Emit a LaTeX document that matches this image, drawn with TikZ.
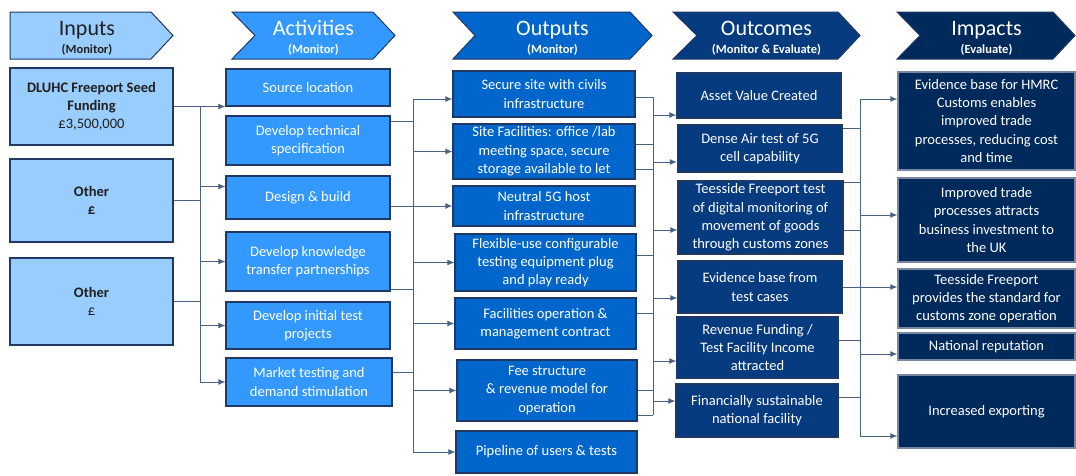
\documentclass[tikz,border=0pt]{standalone}
\usepackage{fontspec}
\setmainfont{Carlito}
\usetikzlibrary{arrows.meta}

\definecolor{inputblue}{HTML}{99CCFF}
\definecolor{actblue}{HTML}{3399FF}
\definecolor{outblue}{HTML}{0066CC}
\definecolor{ocnavy}{HTML}{073B80}
\definecolor{imnavy}{HTML}{002A5C}
\definecolor{edge}{HTML}{1F3864}
\definecolor{wire}{HTML}{4A6384}
\definecolor{ink}{HTML}{202020}

\begin{document}
\begin{tikzpicture}[x=1pt,y=-1pt,
    cell/.style={draw=edge,line width=1.2pt,inner sep=0pt,align=center,
      font=\fontsize{14.5}{18.3}\selectfont},
    inbox/.style={cell,fill=inputblue,text=ink},
    actbox/.style={cell,fill=actblue,text=white},
    outbox/.style={cell,fill=outblue,text=white},
    ocbox/.style={cell,fill=ocnavy,text=white},
    imbox/.style={cell,fill=imnavy,text=white,draw=edge!60},
    link/.style={draw=wire,line width=1pt},
    flow/.style={link,-{Latex[length=7pt,width=6pt]},draw=wire,fill=edge},
    head/.style={draw=edge,line width=1pt},
    headtitle/.style={anchor=base,font=\fontsize{22}{24}\selectfont},
    headsub/.style={anchor=base,font=\fontsize{12.5}{14}\selectfont\bfseries}]

   \useasboundingbox[fill=white] (0,0) rectangle (1076,475);

   %chevrons across the top
   \filldraw[head,fill=inputblue] (10,12) -- (151,12) -- (173,35.5) -- (151,59) -- (10,59) -- cycle;
   \filldraw[head,fill=actblue] (232,12) -- (373,12) -- (395,35.5) -- (373,59) -- (232,59) -- (255,35.5) -- cycle;
   \filldraw[head,fill=outblue] (453,12) -- (630,12) -- (652,35.5) -- (630,59) -- (453,59) -- (475,35.5) -- cycle;
   \filldraw[head,fill=ocnavy] (673,12) -- (838,12) -- (860,35.5) -- (838,59) -- (673,59) -- (697,35.5) -- cycle;
   \filldraw[head,fill=imnavy] (897,12) -- (1053,12) -- (1075,35.5) -- (1053,59) -- (897,59) -- (920,35.5) -- cycle;

   \node[headtitle,text=ink] (tInputs) at (87,35) {Inputs};
   \node[headsub,text=ink] (sInputs) at (87,53) {(Monitor)};
   \node[headtitle,text=white] (tActivities) at (313.5,35) {Activities};
   \node[headsub,text=white] (sActivities) at (313.5,53) {(Monitor)};
   \node[headtitle,text=white] (tOutputs) at (552.5,35) {Outputs};
   \node[headsub,text=white] (sOutputs) at (552.5,53) {(Monitor)};
   \node[headtitle,text=white] (tOutcomes) at (766.5,35) {Outcomes};
   \node[headsub,text=white] (sOutcomes) at (766.5,53) {(Monitor \& Evaluate)};
   \node[headtitle,text=white] (tImpacts) at (986.5,35) {Impacts};
   \node[headsub,text=white] (sImpacts) at (986.5,53) {(Evaluate)};

   %inputs
   \node[inbox,minimum width=163,minimum height=77] (in1) at (91.5,106.5)
      {\textbf{DLUHC Freeport Seed}\\\textbf{Funding}\\£3,500,000};
   \node[inbox,minimum width=163,minimum height=83] (in2) at (91.5,200.5)
      {\textbf{Other}\\\textbf{£}};
   \node[inbox,minimum width=163,minimum height=87] (in3) at (91.5,301.5)
      {\textbf{Other}\\£};

   %activities
   \node[actbox,minimum width=164,minimum height=37] (act1) at (308,87.5) {Source location};
   \node[actbox,minimum width=164,minimum height=49] (act2) at (308,140.5) {Develop technical\\specification};
   \node[actbox,minimum width=164,minimum height=43] (act3) at (308,197.5) {Design \& build};
   \node[actbox,minimum width=164,minimum height=59] (act4) at (308,261.5) {Develop knowledge\\transfer partnerships};
   \node[actbox,minimum width=164,minimum height=47] (act5) at (308,325.5) {Develop initial test\\projects};
   \node[actbox,minimum width=166,minimum height=48] (act6) at (309,382) {Market testing and\\demand stimulation};

   %outputs
   \node[outbox,minimum width=182,minimum height=46] (out1) at (544,94) {Secure site with civils\\infrastructure};
   \node[outbox,minimum width=182,minimum height=55] (out2) at (544,151.5)
      {Site Facilities: office /lab\\meeting space, secure\\storage available to let};
   \node[outbox,minimum width=182,minimum height=40] (out3) at (544,206) {Neutral 5G host\\infrastructure};
   \node[outbox,minimum width=181,minimum height=57] (out4) at (545.5,262.5)
      {Flexible-use configurable\\testing equipment plug\\and play ready};
   \node[outbox,minimum width=181,minimum height=51] (out5) at (545.5,323.5) {Facilities operation \&\\management contract};
   \node[outbox,minimum width=180,minimum height=61] (out6) at (547,390.5) {Fee structure\\\& revenue model for\\operation};
   \node[outbox,minimum width=181,minimum height=42] (out7) at (546.5,452) {Pipeline of users \& tests};

   %outcomes
   \node[ocbox,minimum width=164,minimum height=45] (oc1) at (759,95.5) {Asset Value Created};
   \node[ocbox,minimum width=165,minimum height=47] (oc2) at (760,148.5) {Dense Air test of 5G\\cell capability};
   \node[ocbox,minimum width=165,minimum height=73] (oc3) at (760.5,217.5)
      {Teesside Freeport test\\of digital monitoring of\\movement of goods\\through customs zones};
   \node[ocbox,minimum width=164,minimum height=52] (oc4) at (760,287) {Evidence base from\\test cases};
   \node[ocbox,minimum width=161,minimum height=61] (oc5) at (757.5,347.5)
      {Revenue Funding /\\Test Facility Income\\attracted};
   \node[ocbox,minimum width=162,minimum height=53] (oc6) at (757,410.5) {Financially sustainable\\national facility};

   %impacts
   \node[imbox,minimum width=177,minimum height=98] (im1) at (986.5,121)
      {Evidence base for HMRC\\Customs enables\\improved trade\\processes, reducing cost\\and time};
   \node[imbox,minimum width=177,minimum height=84] (im2) at (986.5,220)
      {Improved trade\\processes attracts\\business investment to\\the UK};
   \node[imbox,minimum width=177,minimum height=59] (im3) at (986.5,298.5)
      {Teesside Freeport\\provides the standard for\\customs zone operation};
   \node[imbox,minimum width=177,minimum height=27] (im4) at (986.5,346.5) {National reputation};
   \node[imbox,minimum width=177,minimum height=73] (im5) at (986.5,411.5) {Increased exporting};

   %inputs -> activities
   \coordinate (inbus) at (200,0);
   \draw[flow] (in1.east) -- (in1.east -| act1.west);
   \draw[link] (in2.east) -- (in2.east -| inbus);
   \draw[link] (in3.east) -- (in3.east -| inbus);
   \draw[link] (in1.east -| inbus) -- (act6.west -| inbus);
   \draw[flow] ([yshift=11]act3.west -| inbus) -- ([yshift=11]act3.west);
   \draw[flow] (act4.west -| inbus) -- (act4.west);
   \draw[flow] (act5.west -| inbus) -- (act5.west);
   \draw[flow] (act6.west -| inbus) -- (act6.west);

   %activities -> outputs
   \coordinate (actbus) at (413,0);
   \draw[link] ([yshift=19.5]act2.east) -- ([yshift=19.5]act2.east -| actbus);
   \draw[link] ([yshift=-8.5]act3.east) -- ([yshift=-8.5]act3.east -| actbus);
   \draw[link] ([yshift=-27.5]act4.east) -- ([yshift=-27.5]act4.east -| actbus);
   \draw[link] ([yshift=10]act6.east) -- ([yshift=10]act6.east -| actbus);
   \draw[link] ([yshift=-5]out1.west -| actbus) -- (out7.west -| actbus);
   \draw[flow] ([yshift=-5]out1.west -| actbus) -- ([yshift=-5]out1.west);
   \draw[flow] (out2.west -| actbus) -- (out2.west);
   \draw[flow] (out3.west -| actbus) -- (out3.west);
   \draw[flow] (out4.west -| actbus) -- (out4.west);
   \draw[flow] (out5.west -| actbus) -- (out5.west);
   \draw[flow] (out6.west -| actbus) -- (out6.west);
   \draw[flow] (out7.west -| actbus) -- (out7.west);

   %outputs -> outcomes
   \coordinate (outbus) at (653,0);
   \draw[link] ([yshift=-3]out1.east) -- ([yshift=-3]out1.east -| outbus);
   \draw[link] ([yshift=7.5]out2.east) -- ([yshift=7.5]out2.east -| outbus);
   \draw[link] ([yshift=-17.5]out2.east) -- ([yshift=-17.5]out2.east -| outbus);
   \draw[link] ([yshift=7.5]out4.east) -- ([yshift=7.5]out4.east -| outbus);
   \draw[link] ([yshift=10.5]out5.east) -- ([yshift=10.5]out5.east -| outbus);
   \draw[link] (out6.east) -- (out6.east -| outbus);
   \draw[link] ([yshift=-24.5]out6.east) -- ([yshift=-24.5]out6.east -| outbus);
   \draw[link] ([yshift=-3]out1.east -| outbus) -- ([yshift=-24.5]out6.east -| outbus);
   \draw[flow] ([yshift=-19.5]oc1.west -| outbus) -- ([yshift=-19.5]oc1.west);
   \draw[flow] ([yshift=-13.5]oc2.west -| outbus) -- ([yshift=-13.5]oc2.west);
   \draw[flow] ([yshift=-12.5]oc3.west -| outbus) -- ([yshift=-12.5]oc3.west);
   \draw[flow] ([yshift=-11]oc4.west -| outbus) -- ([yshift=-11]oc4.west);
   \draw[flow] ([yshift=-13.5]oc5.west -| outbus) -- ([yshift=-13.5]oc5.west);
   \draw[flow] ([yshift=9.5]oc6.west -| outbus) -- ([yshift=9.5]oc6.west);

   %outcomes -> impacts
   \coordinate (ocbus) at (860,0);
   \draw[link] ([yshift=20.5]oc2.east) -- ([yshift=20.5]oc2.east -| ocbus);
   \draw[link] ([yshift=35]oc3.east) -- ([yshift=35]oc3.east -| ocbus);
   \draw[link] ([yshift=-12.5]oc3.east) -- ([yshift=-12.5]oc3.east -| ocbus);
   \draw[link] (oc4.east) -- (oc4.east -| ocbus);
   \draw[link] ([yshift=7.5]oc5.east) -- ([yshift=7.5]oc5.east -| ocbus);
   \draw[link] ([yshift=13.5]oc6.east) -- ([yshift=13.5]oc6.east -| ocbus);
   \draw[link] ([yshift=22]im1.west -| ocbus) -- ([yshift=-24.5]im5.west -| ocbus);
   \draw[flow] ([yshift=22]im1.west -| ocbus) -- ([yshift=22]im1.west);
   \draw[flow] ([yshift=5]im2.west -| ocbus) -- ([yshift=5]im2.west);
   \draw[flow] ([yshift=11.5]im3.west -| ocbus) -- ([yshift=11.5]im3.west);
   \draw[flow] ([yshift=-7.5]im4.west -| ocbus) -- ([yshift=-7.5]im4.west);
   \draw[flow] ([yshift=-24.5]im5.west -| ocbus) -- ([yshift=-24.5]im5.west);

\end{tikzpicture}
\end{document}
